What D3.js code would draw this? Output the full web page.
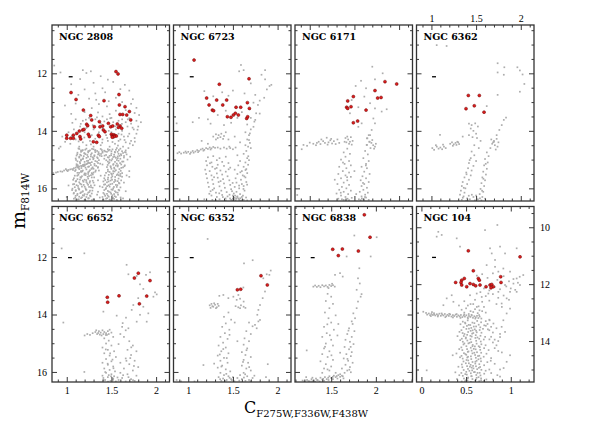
<!DOCTYPE html>
<html><head><meta charset="utf-8">
<script src="https://cdn.jsdelivr.net/npm/d3@7"></script>
<style>body{margin:0;background:#fff}svg{display:block}</style>
</head><body>
<svg id="c" width="598" height="423"></svg>
<script>
const clusterNames = ["NGC 2808","NGC 6723","NGC 6171","NGC 6362","NGC 6652","NGC 6352","NGC 6838","NGC 104"];
const xDomains = [[0.835,2.15],[0.835,2.15],[0.835,2.15],[0.833,2.148],[0.835,2.15],[0.835,2.15],[1.095,2.41],[-0.055,1.26]];
const yDomains = [[10.32,16.44],[10.32,16.44],[10.32,16.44],[10.32,16.44],[10.24,16.35],[10.24,16.35],[10.24,16.35],[9.27,15.44]];
const xBottomLabels = [[],[],[],[],[1,1.5,2],[1,1.5,2],[1.5,2],[0,0.5,1]];
const xTopLabels    = [[],[],[],[1,1.5,2],[],[],[],[]];
const yLeftLabels   = [[12,14,16],[],[],[],[12,14,16],[],[],[]];
const yRightLabels  = [[],[],[],[],[],[],[],[10,12,14]];
const errorBars = [[1.044,12.12,0.022],[1.039,12.12,0.022],null,[1.029,12.12,0.022],[1.036,12.02,0.022],[1.039,12.02,0.022],[1.293,12.02,0.022],[0.141,11.06,0.022]];

const gray2808 = [0.86,11.73,0.93,11.97,1.18,11.89,1.22,11.99,1.27,11.93,1.38,12.10,1.46,12.22,1.15,12.20,1.05,12.38,1.30,12.33,1.52,12.30,1.60,12.55,1.40,12.52,1.20,12.56,1.13,12.75,1.32,12.70,1.70,12.60,1.74,12.90,1.55,12.85,1.47,12.97,1.25,12.88,1.10,13.05,1.36,13.07,1.62,13.00,1.78,13.20,1.72,13.06,1.45,13.15,1.28,13.21,1.20,13.35,1.55,13.30,1.66,13.28,1.76,13.38,1.81,13.45,1.05,13.41,1.35,13.36,1.48,13.42,0.98,13.12,1.58,12.71,1.65,12.40,1.43,12.66,1.33,12.92,1.50,13.55,1.40,13.50,1.70,13.56,1.62,13.60,
1.10,13.6,1.18,13.65,1.25,13.55,1.32,13.6,1.38,13.75,1.45,13.6,1.52,13.7,1.58,13.65,1.66,13.7,1.72,13.75,1.78,13.65,1.80,13.85,1.75,13.95,1.68,13.85,1.62,14.0,1.55,13.95,1.47,14.0,1.40,13.9,1.30,13.95,1.22,13.9,1.15,13.85,1.08,13.95,1.02,14.05,0.95,14.2,1.12,14.1,1.20,14.05,1.28,14.15,1.36,14.05,1.44,14.15,1.52,14.25,1.58,14.1,1.64,14.2,1.70,14.1,1.76,14.25,1.72,14.35,1.66,14.4,1.60,14.3,1.54,14.45,1.46,14.35,1.40,14.3,1.34,14.4,1.26,14.35,1.18,14.4,1.10,14.3,1.04,14.45,0.93,14.55,1.14,14.55,1.22,14.5,1.30,14.55,1.38,14.5,1.48,14.55,1.56,14.6,1.63,14.55,1.69,14.6,1.74,14.5,1.78,14.1,1.83,13.7,1.35,14.2,1.58,14.35,1.50,14.05,
1.063,13.721,1.157,13.758,1.214,13.612,1.291,13.804,1.338,13.532,1.421,13.673,1.487,13.562,1.543,13.842,1.617,13.758,1.683,13.601,1.737,13.889,1.792,13.963,1.058,14.192,1.133,14.368,1.197,14.233,1.271,14.471,1.319,14.276,1.397,14.412,1.453,14.248,1.512,14.389,1.573,14.512,1.647,14.318,1.706,14.441,1.762,14.377,1.685,14.192,1.613,14.128,0.982,14.381,0.912,14.612,
0.85,15.47,0.88,15.45,0.90,15.43,0.93,15.41,0.95,15.42,0.97,15.38,1.00,15.37,1.02,15.36,1.04,15.34,1.06,15.33,1.08,15.30,1.10,15.28,1.12,15.26,1.14,15.24,1.16,15.22,1.18,15.19,1.20,15.17,1.22,15.16,1.01,15.40,1.07,15.36,1.13,15.29,1.19,15.23,0.99,15.33,1.11,15.22,1.25,15.12,
1.14,14.63,1.18,14.67,1.22,14.62,1.26,14.68,1.30,14.64,1.34,14.70,1.38,14.63,1.42,14.69,1.46,14.64,1.50,14.71,1.55,14.66,1.60,14.62,1.66,14.68,1.12,14.76,1.16,14.73,1.20,14.79,1.24,14.75,1.28,14.78,1.32,14.74,1.36,14.80,1.40,14.76,1.45,14.73,1.50,14.79,1.54,14.75,1.58,14.80,1.63,14.77,1.11,14.86,1.15,14.83,1.19,14.88,1.23,14.84,1.27,14.89,1.31,14.85,1.35,14.82,1.39,14.88,1.44,14.84,1.48,14.87,1.53,14.83,1.57,14.89,1.61,14.85,1.67,14.82,1.10,14.96,1.14,14.93,1.18,14.98,1.22,14.94,1.26,14.99,1.30,14.95,1.34,14.92,1.42,14.97,1.47,14.93,1.51,14.98,1.55,14.94,1.60,14.97,1.64,14.93,1.12,15.06,1.16,15.03,1.20,15.08,1.24,15.04,1.28,15.09,1.32,15.05,1.36,15.02,1.46,15.07,1.50,15.03,1.54,15.08,1.58,15.04,1.62,15.07,1.11,15.16,1.15,15.13,1.19,15.18,1.23,15.14,1.27,15.19,1.31,15.15,1.35,15.12,1.40,15.17,1.47,15.13,1.52,15.18,1.56,15.14,1.61,15.17,1.13,15.26,1.17,15.23,1.21,15.28,1.25,15.24,1.29,15.27,1.33,15.22,1.45,15.26,1.49,15.23,1.53,15.28,1.57,15.24,1.63,15.27,1.10,15.36,1.14,15.33,1.18,15.38,1.22,15.34,1.26,15.37,1.30,15.32,1.36,15.38,1.46,15.35,1.50,15.32,1.55,15.37,1.59,15.33,1.12,15.46,1.16,15.43,1.20,15.48,1.24,15.44,1.28,15.47,1.32,15.42,1.44,15.46,1.48,15.43,1.52,15.48,1.58,15.44,1.62,15.47,1.09,15.56,1.13,15.53,1.17,15.58,1.21,15.54,1.25,15.57,1.29,15.52,1.38,15.56,1.47,15.53,1.51,15.58,1.56,15.54,1.60,15.57,
1.131,14.612,1.173,14.694,1.207,14.655,1.249,14.702,1.283,14.627,1.318,14.688,1.356,14.741,1.392,14.665,1.431,14.718,1.467,14.689,1.512,14.645,1.538,14.733,1.583,14.668,1.619,14.709,1.652,14.741,1.118,14.812,1.161,14.857,1.196,14.774,1.238,14.903,1.271,14.826,1.309,14.878,1.347,14.951,1.384,14.803,1.423,14.862,1.459,14.919,1.497,14.848,1.536,14.897,1.571,14.951,1.606,14.812,1.641,14.874,1.104,15.013,1.147,15.085,1.183,14.956,1.226,15.047,1.262,15.118,1.297,14.989,1.339,15.071,1.374,15.142,1.442,15.023,1.478,15.096,1.523,15.154,1.561,15.015,1.597,15.122,1.634,15.068,1.123,15.211,1.164,15.294,1.202,15.176,1.239,15.253,1.277,15.318,1.312,15.201,1.348,15.283,1.458,15.187,1.493,15.265,1.534,15.318,1.572,15.198,1.611,15.287,1.645,15.231,1.093,15.397,1.138,15.462,1.172,15.414,1.213,15.489,1.251,15.412,1.289,15.501,1.325,15.377,1.461,15.409,1.497,15.487,1.536,15.413,1.569,15.508,1.604,15.392,1.118,15.559,1.153,15.611,1.196,15.527,1.234,15.598,1.271,15.543,1.307,15.619,1.426,15.552,1.463,15.627,1.505,15.521,1.542,15.604,1.583,15.547,1.619,15.596,
1.16,14.68,1.24,14.71,1.32,14.67,1.40,14.72,1.48,14.66,1.57,14.73,1.14,14.90,1.21,14.81,1.29,14.92,1.37,14.86,1.52,14.91,1.59,14.87,1.16,15.00,1.24,15.11,1.20,15.21,1.28,15.31,1.16,15.40,1.24,15.50,1.48,15.01,1.55,15.21,1.52,15.40,1.60,15.50,1.12,15.19,1.30,15.45,1.35,15.26,1.66,14.75,1.68,15.00,1.65,15.20,1.70,15.40,1.67,15.55,1.71,14.90,
1.08,15.65,1.12,15.68,1.16,15.63,1.20,15.70,1.24,15.66,1.28,15.62,1.10,15.76,1.14,15.79,1.18,15.73,1.22,15.78,1.26,15.75,1.30,15.80,1.07,15.86,1.11,15.89,1.15,15.84,1.19,15.88,1.23,15.83,1.27,15.90,1.09,15.96,1.13,15.99,1.17,15.94,1.21,16.00,1.25,15.95,1.29,15.98,1.06,16.06,1.10,16.09,1.14,16.04,1.18,16.10,1.22,16.05,1.26,16.08,1.08,16.16,1.12,16.19,1.16,16.14,1.20,16.20,1.24,16.15,1.28,16.18,1.10,16.26,1.14,16.29,1.18,16.24,1.22,16.30,1.26,16.25,1.08,16.36,1.12,16.39,1.16,16.34,1.20,16.40,1.24,16.35,1.30,16.38,
1.072,15.703,1.106,15.742,1.148,15.693,1.187,15.771,1.218,15.715,1.257,15.802,1.291,15.737,1.083,15.851,1.126,15.918,1.163,15.862,1.201,15.943,1.239,15.877,1.272,15.961,1.311,15.893,1.064,16.012,1.101,16.064,1.139,16.031,1.176,16.117,1.214,16.043,1.253,16.129,1.287,16.078,1.077,16.182,1.118,16.231,1.152,16.167,1.193,16.254,1.228,16.212,1.267,16.279,1.095,16.321,1.134,16.382,1.171,16.311,1.209,16.421,1.247,16.345,1.282,16.409,
1.42,15.65,1.46,15.69,1.50,15.63,1.54,15.70,1.58,15.66,1.41,15.76,1.45,15.79,1.49,15.73,1.53,15.78,1.57,15.75,1.43,15.86,1.47,15.89,1.51,15.84,1.55,15.88,1.59,15.83,1.40,15.96,1.44,15.99,1.48,15.94,1.52,16.00,1.56,15.95,1.42,16.06,1.46,16.09,1.50,16.04,1.54,16.10,1.58,16.05,1.41,16.16,1.45,16.19,1.49,16.14,1.53,16.20,1.57,16.15,1.43,16.26,1.47,16.29,1.51,16.24,1.55,16.30,1.44,16.36,1.48,16.39,1.52,16.34,1.56,16.40,1.40,16.30,
1.431,15.712,1.468,15.761,1.507,15.702,1.545,15.742,1.583,15.811,1.609,15.723,1.417,15.871,1.452,15.923,1.489,15.856,1.528,15.951,1.566,15.889,1.601,15.967,1.436,16.024,1.473,16.118,1.514,16.052,1.551,16.137,1.588,16.071,1.422,16.203,1.459,16.251,1.497,16.187,1.536,16.272,1.574,16.221,1.411,16.391,1.452,16.341,1.491,16.423,1.529,16.368,1.566,16.431,1.603,16.317,
1.35,15.72,1.37,15.93,1.35,16.12,1.37,16.32,1.34,16.22,1.64,15.80,1.66,16.10,1.02,15.90,1.00,16.30,1.70,15.60,1.63,16.35];
const gray6723 = [1.59,11.71,1.62,11.89,1.57,11.93,1.86,11.89,1.82,12.05,1.86,12.21,1.91,12.44,1.88,12.56,1.93,12.40,1.70,12.35,1.63,12.70,1.50,12.60,1.45,12.78,1.38,12.66,1.28,12.80,1.18,12.62,1.75,12.75,1.80,12.95,1.78,13.10,1.73,13.02,1.85,12.85,1.69,13.25,1.60,13.35,1.55,13.55,1.42,13.30,1.33,13.45,1.22,13.60,1.12,13.55,1.05,13.70,1.25,13.75,1.70,13.55,1.74,13.68,1.66,13.78,1.80,13.40,1.70,13.95,1.64,14.05,0.87,13.74,1.40,13.80,1.48,13.72,
1.76,13.39,1.75,13.62,1.73,13.86,1.69,14.09,1.68,14.32,1.67,14.55,
0.88,14.78,0.90,14.74,0.92,14.79,0.95,14.76,0.98,14.77,1.00,14.73,1.03,14.75,1.05,14.70,1.08,14.72,1.10,14.67,1.12,14.70,1.14,14.65,1.16,14.62,1.18,14.66,1.20,14.60,1.22,14.63,1.24,14.58,1.26,14.61,1.28,14.56,1.30,14.59,1.06,14.76,1.11,14.74,1.17,14.69,0.97,14.72,1.02,14.80,1.25,14.65,1.33,14.58,1.36,14.62,
1.40,14.58,1.43,14.62,1.47,14.60,1.50,14.64,1.53,14.58,1.46,14.55,
1.31,14.12,1.34,14.15,1.37,14.10,1.40,14.18,1.33,14.25,1.36,14.22,1.39,14.28,1.31,14.30,1.42,14.05,1.28,14.20,1.45,14.30,1.52,14.20,1.58,14.40,1.22,14.45,1.15,14.35,
1.68,14.15,1.66,14.30,1.69,14.42,1.64,14.50,1.70,14.60,1.65,14.70,
1.22,14.92,1.28,14.88,1.35,14.95,1.42,14.90,1.55,14.85,1.62,14.80,1.66,14.95,1.20,15.05,1.26,15.10,1.32,15.02,1.38,15.08,1.45,15.12,1.58,15.05,1.64,15.10,1.68,15.02,1.21,15.20,1.27,15.25,1.33,15.18,1.40,15.22,1.47,15.28,1.56,15.20,1.62,15.25,1.67,15.18,1.19,15.35,1.24,15.40,1.30,15.32,1.36,15.38,1.42,15.42,1.52,15.35,1.60,15.40,1.65,15.33,1.20,15.50,1.26,15.55,1.32,15.48,1.38,15.52,1.44,15.58,1.55,15.50,1.61,15.55,1.66,15.47,1.21,15.65,1.27,15.70,1.33,15.63,1.39,15.68,1.46,15.72,1.53,15.65,1.59,15.70,1.64,15.62,1.22,15.80,1.28,15.85,1.34,15.78,1.40,15.83,1.47,15.88,1.54,15.80,1.60,15.85,1.65,15.78,1.23,15.95,1.29,16.00,1.35,15.93,1.41,15.98,1.48,16.03,1.52,15.95,1.57,16.00,1.62,15.92,1.25,16.10,1.31,16.15,1.37,16.08,1.43,16.13,1.49,16.10,1.51,16.18,1.54,16.12,1.58,16.20,1.63,16.08,1.26,16.25,1.32,16.30,1.38,16.23,1.44,16.28,1.50,16.25,1.52,16.33,1.55,16.28,1.57,16.38,1.60,16.30,1.27,16.40,1.35,16.38,1.42,16.42,1.48,16.40,1.50,16.36,1.53,16.42,1.56,16.35,1.59,16.43,1.62,16.40,1.66,16.42,1.18,16.38,
1.243,15.127,1.318,15.291,1.452,15.337,1.583,15.442,1.627,15.581,1.289,15.613,1.362,15.748,1.497,15.812,1.569,15.903,1.618,16.021,1.273,16.052,1.347,16.173,1.462,16.221,1.524,16.254,1.548,16.301,1.583,16.342,1.512,16.391,1.537,16.362,1.571,16.418,1.493,16.427,1.468,16.352,1.612,16.253,1.647,16.318,1.418,16.351,1.387,16.303,1.308,16.412,1.236,16.188,1.659,15.872,1.641,15.363,1.672,14.883];
const gray6171 = [1.70,11.77,1.816,12.00,1.574,12.26,1.514,12.44,1.63,12.52,1.73,12.21,1.611,12.81,1.675,13.04,1.73,13.22,1.805,13.33,1.861,13.25,1.469,12.93,1.544,13.18,1.45,13.39,1.544,13.86,1.581,13.74,1.712,13.57,1.73,13.74,1.693,13.97,1.675,14.15,1.645,14.26,1.667,14.38,1.637,14.49,
0.91,14.64,0.93,14.49,0.97,14.52,1.00,14.41,1.04,14.45,1.07,14.50,1.10,14.38,1.13,14.30,1.15,14.36,1.17,14.42,1.19,14.24,1.21,14.40,1.23,14.33,1.25,14.44,1.27,14.36,1.29,14.46,1.31,14.30,1.33,14.42,1.12,14.46,1.20,14.48,1.24,14.28,1.08,14.42,
1.40,14.25,1.43,14.30,1.46,14.22,1.48,14.35,1.41,14.40,1.44,14.45,1.47,14.48,1.42,14.20,1.39,14.38,1.45,14.38,
1.64,14.26,1.67,14.38,1.64,14.49,1.66,14.15,1.69,14.42,1.71,14.50,1.73,14.55,1.68,14.60,1.74,14.45,1.70,14.32,1.72,14.62,
1.42,14.62,1.38,14.75,1.45,14.80,1.40,14.90,1.35,15.00,1.44,15.05,1.39,15.15,1.46,15.20,1.33,15.25,1.41,15.30,1.37,15.40,1.44,15.45,1.32,15.50,1.40,15.55,1.46,15.60,1.35,15.65,1.42,15.72,1.38,15.80,1.31,15.85,1.44,15.88,1.36,15.95,1.41,16.00,1.33,16.05,1.46,16.08,1.38,16.12,1.30,16.18,1.43,16.20,1.35,16.25,1.40,16.30,1.47,16.33,1.32,16.36,1.38,16.40,1.44,16.41,1.36,16.38,
1.62,14.70,1.65,14.82,1.60,14.95,1.66,15.05,1.63,15.15,1.58,15.25,1.64,15.30,1.61,15.42,1.67,15.50,1.59,15.58,1.63,15.65,1.57,15.72,1.66,15.78,1.61,15.85,1.58,15.92,1.64,15.98,1.60,16.05,1.56,16.12,1.65,16.15,1.62,16.22,1.58,16.28,1.63,16.32,1.60,16.38,1.66,16.40,1.57,16.41,
0.86,16.23,1.50,15.40,1.52,16.20,1.55,16.38,1.28,15.70,1.372,15.103,1.418,15.612,1.347,16.152,1.423,16.362,1.628,15.203,1.596,15.812,1.618,16.301,1.583,16.352];
const gray6362 = [1.059,11.02,1.17,11.05,1.741,11.65,1.741,11.97,1.816,11.79,1.81,12.05,1.962,11.79,1.99,11.90,2.02,12.04,2.04,12.37,1.99,12.64,1.741,12.75,1.619,13.14,1.835,13.54,1.81,13.62,1.787,13.80,1.76,13.97,1.73,14.15,1.70,14.38,
1.42,13.75,1.45,13.80,1.49,13.74,1.52,13.85,1.44,13.92,1.47,14.00,1.50,14.10,1.42,14.15,1.46,14.22,1.51,14.25,
1.01,14.60,1.03,14.66,1.06,14.55,1.08,14.62,1.10,14.58,1.12,14.64,1.14,14.55,1.16,14.60,1.05,14.50,1.13,14.48,1.21,14.45,1.23,14.40,1.25,14.47,1.27,14.42,1.29,14.38,1.31,14.46,1.24,14.52,1.28,14.49,1.30,14.40,0.835,14.49,1.096,14.14,
1.67,14.30,1.70,14.35,1.73,14.28,1.75,14.40,1.68,14.45,1.71,14.50,1.74,14.55,1.66,14.60,1.72,14.65,1.69,14.40,
1.45,14.72,1.48,14.85,1.44,14.95,1.50,15.05,1.42,15.12,1.47,15.22,1.41,15.30,1.45,15.38,1.39,15.45,1.44,15.55,1.37,15.62,1.42,15.70,1.35,15.78,1.40,15.85,1.34,15.92,1.38,16.00,1.33,16.08,1.37,16.15,1.32,16.22,1.36,16.28,1.40,16.35,1.34,16.40,1.39,16.43,1.43,16.38,1.47,16.30,
1.62,14.75,1.64,14.88,1.60,14.98,1.63,15.10,1.59,15.20,1.62,15.32,1.58,15.42,1.61,15.52,1.57,15.62,1.60,15.72,1.56,15.82,1.59,15.92,1.55,16.02,1.58,16.12,1.54,16.20,1.57,16.30,1.52,16.38,1.56,16.42,1.60,16.36,1.50,16.25,
1.53,14.60,1.48,14.50,1.55,14.35,1.35,14.20,1.428,15.017,1.393,15.512,1.362,15.981,1.351,16.327,1.418,16.257,1.608,15.147,1.582,15.667,1.567,16.082,1.543,16.348,1.487,16.418,1.452,16.222];
const gray6652 = [0.943,11.70,1.197,11.87,1.67,12.27,1.69,12.60,1.783,12.66,1.887,12.62,1.932,12.53,1.82,12.95,1.857,13.11,1.988,13.23,2.007,13.30,1.97,13.38,1.857,13.73,1.913,13.96,1.895,14.25,1.41,13.90,0.962,14.28,1.559,14.04,1.663,14.11,1.626,14.30,1.69,14.48,1.783,14.25,1.82,14.01,1.745,13.67,1.80,13.43,1.727,13.84,
1.20,14.73,1.23,14.68,1.26,14.71,1.29,14.65,1.32,14.61,1.34,14.68,1.36,14.58,1.38,14.63,1.40,14.55,1.42,14.61,1.44,14.65,1.46,14.58,1.48,14.53,1.50,14.63,1.37,14.70,1.41,14.68,1.45,14.71,1.33,14.55,1.47,14.68,1.39,14.73,
1.62,14.43,1.66,14.55,1.60,14.68,1.64,14.78,
1.42,14.83,1.47,14.91,1.52,14.78,1.44,15.01,1.50,15.08,1.40,15.15,1.46,15.23,1.53,15.28,1.42,15.35,1.48,15.43,1.55,15.48,1.44,15.55,1.50,15.63,1.40,15.68,1.46,15.75,1.52,15.81,1.42,15.88,1.48,15.93,1.54,15.98,1.44,16.03,1.50,16.08,1.40,16.13,1.46,16.18,1.52,16.23,1.43,16.28,1.49,16.31,1.55,16.33,1.41,16.21,1.47,16.11,1.53,16.15,
1.70,14.93,1.74,15.08,1.68,15.23,1.78,15.28,1.72,15.41,1.66,15.53,1.76,15.61,1.70,15.73,1.80,15.83,1.64,15.88,1.74,15.95,1.68,16.08,1.78,16.13,1.62,16.21,1.72,16.25,1.66,16.33,1.76,16.31,1.60,16.03,
1.197,16.00,1.58,15.03,1.60,15.68,1.58,16.28,
1.437,15.216,1.486,15.352,1.512,15.571,1.458,15.713,1.523,15.872,1.431,16.004,1.496,16.152,1.518,16.274,1.462,16.337,1.413,16.286,1.568,16.192,1.711,15.518,1.752,15.792,1.691,16.182,1.742,16.287,1.631,16.113,1.668,15.612,1.722,15.143,1.438,14.713,1.352,14.643];
const gray6352 = [1.217,11.37,1.721,12.11,1.624,12.22,1.878,12.60,1.908,12.62,1.923,12.47,1.84,12.74,1.859,13.20,1.833,13.43,1.803,13.67,1.785,13.84,1.773,14.01,1.803,14.19,1.785,14.24,1.747,14.36,1.766,14.48,1.617,13.06,1.561,13.32,1.505,13.38,1.449,13.43,1.393,13.32,1.348,13.35,1.542,13.49,1.58,13.45,1.62,13.55,
1.24,13.68,1.26,13.63,1.28,13.73,1.30,13.66,1.32,13.75,1.34,13.70,1.25,13.77,1.29,13.61,1.33,13.63,1.27,13.71,1.31,13.78,1.53,13.71,1.56,13.75,1.59,13.68,1.62,13.73,1.64,13.77,1.58,13.78,
1.45,13.93,1.40,14.08,1.48,14.18,1.42,14.31,1.38,14.43,1.46,14.53,1.41,14.65,1.36,14.78,1.44,14.85,1.39,14.98,1.34,15.08,1.42,15.15,1.37,15.28,1.45,15.35,1.33,15.43,1.40,15.51,1.36,15.61,1.44,15.68,1.38,15.78,1.33,15.85,1.42,15.91,1.47,15.98,1.36,16.03,1.40,16.11,1.45,16.15,1.34,16.18,1.39,16.23,1.43,16.28,1.37,16.31,1.48,16.25,1.50,16.18,
1.68,14.28,1.72,14.41,1.65,14.58,1.70,14.68,1.63,14.83,1.68,14.93,1.62,15.05,1.66,15.18,1.60,15.31,1.64,15.41,1.70,15.48,1.62,15.58,1.67,15.68,1.60,15.78,1.65,15.88,1.70,15.95,1.62,16.03,1.58,16.11,1.66,16.15,1.72,16.21,1.60,16.25,1.64,16.31,1.68,16.28,1.74,16.13,1.55,16.21,
0.87,16.28,0.92,16.33,1.07,16.33,1.17,15.76,1.29,15.71,1.89,15.73,1.87,16.18,1.52,14.28,1.55,14.93,
1.392,15.202,1.431,15.517,1.371,15.812,1.426,16.066,1.357,16.252,1.418,16.312,1.463,16.203,1.652,15.243,1.613,15.652,1.682,15.831,1.637,16.082,1.697,16.322,1.623,16.195,1.571,16.301,1.516,16.322,1.487,16.283,1.353,15.392,1.462,14.708];
const gray6838 = [1.759,11.25,2.009,11.31,1.942,11.98,1.673,11.98,1.815,12.39,1.543,12.62,1.599,12.56,1.629,12.68,1.80,12.74,1.82,12.92,1.785,13.14,1.84,13.29,1.83,13.38,1.80,13.55,1.785,13.78,1.748,13.96,1.767,14.13,1.73,14.24,
1.30,13.03,1.32,12.99,1.34,13.04,1.36,13.00,1.38,13.05,1.40,12.98,1.42,13.02,1.44,12.99,1.46,13.04,1.48,12.97,1.50,13.01,1.52,12.98,1.54,13.03,1.51,12.93,1.47,13.08,
1.46,13.28,1.50,13.38,1.44,13.53,1.52,13.63,1.48,13.78,1.43,13.93,1.55,14.03,1.47,14.13,1.50,14.28,1.42,14.43,1.53,14.53,1.45,14.65,1.40,14.78,1.50,14.88,1.44,15.01,1.52,15.08,1.42,15.18,1.48,15.28,1.40,15.38,1.46,15.48,1.52,15.58,1.38,15.63,1.44,15.73,1.50,15.81,1.42,15.88,1.48,15.95,1.55,16.03,1.40,16.03,
1.74,14.33,1.70,14.48,1.76,14.58,1.68,14.68,1.73,14.78,1.66,14.88,1.71,14.95,1.75,15.03,1.65,15.13,1.70,15.21,1.73,15.31,1.67,15.38,1.72,15.45,1.64,15.53,1.69,15.61,1.74,15.68,1.66,15.75,1.71,15.83,1.62,15.88,1.68,15.95,1.65,16.03,1.60,16.08,1.72,16.01,1.63,16.15,
1.20,16.33,1.23,16.28,1.25,16.35,1.28,16.25,1.30,16.31,1.33,16.23,1.35,16.29,1.38,16.20,1.40,16.26,1.43,16.18,1.45,16.25,1.48,16.15,1.50,16.21,1.53,16.13,1.55,16.18,1.58,16.11,1.60,16.17,1.26,16.33,1.32,16.34,1.37,16.33,1.42,16.31,1.47,16.28,1.52,16.25,1.57,16.23,1.22,16.18,1.62,16.13,1.18,16.30,1.29,16.20,
1.226,15.25,1.58,14.33,1.60,15.33,1.57,14.73,
1.457,14.342,1.485,14.723,1.431,15.123,1.503,15.421,1.459,15.912,1.693,14.562,1.718,15.127,1.682,15.547,1.703,15.923,1.638,16.224,1.342,16.281,1.411,16.238,1.467,16.201,1.518,16.168,1.562,16.143,1.246,16.317,1.287,16.327];
const gray104 = [0.189,10.16,0.227,10.27,0.171,10.33,0.395,10.39,0.432,10.68,0.712,10.10,0.85,9.92,0.768,10.74,0.88,10.68,0.787,10.92,0.824,11.15,0.936,10.92,1.066,10.74,1.10,11.74,1.14,11.68,1.066,11.80,0.992,11.56,0.917,11.45,0.824,11.39,0.73,11.33,0.861,11.56,1.03,11.98,0.936,12.03,0.992,12.27,0.861,12.27,0.749,12.33,0.675,12.45,0.619,12.33,0.544,12.39,0.339,12.39,0.283,12.50,0.246,12.74,0.358,12.62,0.021,12.97,0.059,15.03,1.066,12.27,1.103,12.03,0.954,12.50,0.898,12.68,0.992,12.86,0.954,13.03,0.917,13.27,0.898,13.50,0.936,13.68,0.88,13.86,0.992,14.50,0.954,14.73,0.92,14.95,0.88,15.25,
0.62,11.70,0.68,11.65,0.74,11.78,0.80,11.62,0.85,11.85,0.92,11.72,0.98,11.90,1.03,11.82,1.08,11.95,0.70,12.15,0.76,12.22,0.82,12.10,0.88,12.18,0.95,12.08,1.00,12.15,1.05,12.20,0.66,12.28,0.72,12.42,0.80,12.35,0.86,12.48,0.92,12.40,0.98,12.55,0.60,12.55,0.68,12.62,0.76,12.58,0.84,12.70,0.90,12.80,0.55,12.70,0.62,12.80,0.48,12.60,0.42,12.75,
0.064,13.071,0.083,13.032,0.097,13.094,0.112,13.048,0.128,13.083,0.141,13.021,0.156,13.102,0.172,13.057,0.186,13.092,0.201,13.038,0.217,13.114,0.233,13.069,0.247,13.101,0.262,13.049,0.278,13.126,0.291,13.078,0.307,13.117,0.322,13.061,0.336,13.138,0.352,13.087,0.368,13.121,0.383,13.072,0.397,13.148,0.413,13.098,0.428,13.132,0.442,13.083,0.458,13.158,0.473,13.107,0.487,13.142,0.503,13.094,0.518,13.171,0.532,13.118,0.548,13.152,0.563,13.104,0.577,13.183,0.592,13.128,0.608,13.167,0.622,13.113,0.637,13.192,0.652,13.139,0.106,13.121,0.143,13.068,0.184,13.136,0.226,13.029,0.268,13.162,0.311,13.043,0.353,13.171,0.394,13.052,0.437,13.187,0.479,13.066,0.521,13.206,0.561,13.078,0.603,13.211,0.646,13.087,0.671,13.209,0.052,13.012,0.118,12.983,
0.45,12.90,0.50,12.85,0.55,12.95,0.60,12.88,0.65,12.92,0.48,13.00,0.53,13.05,0.58,12.98,0.63,13.02,0.68,12.95,0.72,13.00,0.70,12.80,0.52,12.75,0.58,12.70,0.64,12.78,
0.74,13.40,0.78,13.50,0.76,13.62,0.80,13.70,0.78,13.85,0.82,13.95,0.80,14.05,0.84,14.15,0.82,14.25,0.86,14.35,0.72,13.30,0.76,13.25,0.84,13.55,0.88,13.75,0.86,14.00,
0.463,13.318,0.518,13.274,0.571,13.352,0.624,13.293,0.668,13.341,0.437,13.409,0.492,13.381,0.547,13.437,0.593,13.372,0.641,13.426,0.703,13.448,0.472,13.512,0.509,13.468,0.558,13.539,0.612,13.487,0.659,13.518,0.721,13.463,0.448,13.617,0.503,13.574,0.551,13.641,0.597,13.588,0.652,13.612,0.689,13.571,0.461,13.719,0.523,13.682,0.568,13.741,0.619,13.693,0.672,13.708,0.426,13.677,0.474,13.823,0.512,13.781,0.563,13.842,0.608,13.794,0.661,13.815,0.713,13.853,0.452,13.918,0.498,13.876,0.549,13.937,0.604,13.891,0.647,13.919,0.698,13.946,0.463,14.024,0.514,13.982,0.558,14.038,0.613,13.991,0.664,14.017,0.434,13.968,0.471,14.121,0.526,14.083,0.574,14.137,0.618,14.092,0.671,14.114,0.718,14.148,0.447,14.223,0.503,14.181,0.552,14.236,0.598,14.189,0.653,14.214,0.702,14.251,0.458,14.318,0.511,14.284,0.562,14.337,0.607,14.291,0.658,14.308,0.423,14.282,0.476,14.427,0.519,14.381,0.571,14.434,0.622,14.393,0.669,14.412,0.728,14.446,0.449,14.521,0.502,14.483,0.554,14.538,0.601,14.491,0.648,14.517,0.697,14.552,0.462,14.617,0.513,14.579,0.558,14.634,0.609,14.588,0.663,14.613,0.432,14.571,0.471,14.718,0.524,14.682,0.572,14.737,0.618,14.693,0.667,14.711,0.738,14.742,0.452,14.823,0.497,14.781,0.551,14.836,0.603,14.793,0.648,14.814,0.702,14.851,0.458,14.921,0.511,14.882,0.563,14.934,0.611,14.887,0.657,14.913,0.414,14.903,0.473,15.018,0.521,14.981,0.568,15.032,0.624,14.989,0.671,15.012,0.719,15.043,0.447,15.121,0.502,15.084,0.553,15.133,0.598,15.091,0.652,15.117,0.703,15.148,0.463,15.223,0.508,15.181,0.559,15.236,0.614,15.193,0.661,15.208,0.424,15.201,0.476,15.318,0.523,15.283,0.571,15.337,0.618,15.292,0.668,15.313,0.727,15.351,0.451,15.421,0.497,15.382,0.553,15.434,0.602,15.393,0.647,15.412,0.698,15.403,
0.488,13.352,0.532,13.563,0.581,13.718,0.627,13.874,0.539,14.061,0.586,14.274,0.492,14.459,0.638,14.642,0.531,14.781,0.583,14.962,0.491,15.163,0.639,15.271,0.516,15.382,0.586,13.491,0.482,13.753,0.572,14.182,0.527,14.366,0.633,14.527,0.578,14.874,0.537,15.047,0.628,15.121,0.481,14.083,0.612,13.637,0.548,13.817,0.592,14.412,0.505,14.667,0.643,14.941,0.562,15.237,0.488,15.413,0.611,15.352,0.529,13.431,0.573,13.623,0.496,13.908,0.641,14.182,0.522,14.553,0.604,14.727,0.543,14.902,0.588,15.093,0.519,15.304,0.668,15.382,0.744,13.588,0.761,13.942,0.752,14.318,0.776,14.693,0.781,15.126,0.404,13.827,0.392,14.437,0.398,15.338,0.763,13.271,0.806,13.384,
0.78,14.60,0.82,14.80,0.76,15.00,0.85,15.20,0.80,15.35,0.90,14.40,0.38,15.10,0.35,14.50,0.88,15.00];

const red2808 = [1.551,11.94,1.574,12.02,1.048,12.67,1.104,12.91,1.417,12.95,1.585,12.74,1.186,13.28,1.268,13.47,1.589,13.10,1.652,13.16,1.701,13.33,1.596,13.43,1.626,13.43,1.671,13.45,1.716,13.62,1.279,13.62,1.223,13.77,1.234,13.82,1.309,13.86,1.365,13.68,1.402,13.83,1.41,13.97,1.428,14.03,1.466,13.74,1.492,13.86,1.514,13.83,1.566,13.76,1.596,13.83,1.615,13.91,1.578,13.88,1.178,13.97,1.193,13.95,1.111,14.09,1.141,14.01,1.074,14.15,1.0,14.15,1.0,14.26,1.044,14.26,1.074,14.26,1.148,14.2,1.156,14.28,1.242,14.12,1.253,14.2,1.298,14.38,1.335,14.4,1.354,14.15,1.365,14.2,1.50,14.12,1.51,14.18,1.525,14.14,1.54,14.16,1.555,14.18,1.53,14.20,1.51,14.22,1.372,13.86];
const red6723 = [1.065,11.54,1.680,12.19,1.348,12.38,1.206,12.86,1.318,12.93,1.43,12.93,1.233,13.10,1.386,13.10,1.27,13.28,1.284,13.30,1.535,13.18,1.587,13.18,1.662,13.02,1.684,13.22,1.438,13.51,1.478,13.53,1.505,13.45,1.527,13.39,1.561,13.45,1.654,13.57,1.665,13.51];
const red6171 = [1.842,12.29,1.973,12.37,1.73,12.60,1.76,12.86,1.798,12.84,1.488,12.81,1.425,12.96,1.413,13.18,1.425,13.22,1.462,13.16,1.63,13.28,1.488,13.72,1.536,13.66];
const red6362 = [1.413,12.77,1.536,12.77,1.48,13.13,1.387,13.23,1.589,13.35];
const red6652 = [1.801,12.56,1.757,12.73,1.932,12.82,1.454,13.40,1.585,13.35,1.458,13.57,1.895,13.36,1.813,13.63];
const red6352 = [1.814,12.65,1.885,12.97,1.55,13.14,1.587,13.12];
const red6838 = [1.871,10.53,1.935,11.31,1.517,11.73,1.625,11.72,1.58,11.95,1.804,11.79];
const red104 = [0.525,10.83,1.104,11.04,0.581,11.53,0.480,11.80,0.451,11.86,0.383,11.94,0.443,11.94,0.451,12.03,0.544,11.98,0.637,11.80,0.648,11.86,0.656,12.03,0.581,12.01,0.607,12.06,0.507,12.09,0.723,12.09,0.768,12.03,0.787,12.01,0.805,12.09,0.779,12.13,0.887,11.74,0.891,11.94];

const grayData = [gray2808,gray6723,gray6171,gray6362,gray6652,gray6352,gray6838,gray104];
const redData = [red2808,red6723,red6171,red6362,red6652,red6352,red6838,red104];

const pairs = a => { const o=[]; for(let i=0;i+1<a.length;i+=2) o.push([a[i],a[i+1]]); return o; };

const colLeft=[52,173.5,295,416.5], panelW=117.5;
const rowTop=[25,206.5], panelH=[176,175.5];
const svg=d3.select("#c");
const fmt=d3.format("~g");
const tickFont="Liberation Serif";

clusterNames.forEach((name,i)=>{
  const r=Math.floor(i/4), c=i%4;
  const x0=colLeft[c], y0=rowTop[r], w=panelW, h=panelH[r];
  const xs=d3.scaleLinear().domain(xDomains[i]).range([x0,x0+w]);
  const ys=d3.scaleLinear().domain(yDomains[i]).range([y0,y0+h]);
  const g=svg.append("g");
  const cid="clip"+i;
  svg.append("clipPath").attr("id",cid).append("rect").attr("x",x0).attr("y",y0).attr("width",w).attr("height",h);
  const pg=g.append("g").attr("clip-path",`url(#${cid})`);
  pg.selectAll("rect.gp").data(pairs(grayData[i])).join("rect").attr("class","gp")
    .attr("x",d=>xs(d[0])-0.85).attr("y",d=>ys(d[1])-0.85).attr("width",1.7).attr("height",1.7).attr("fill","#adadad");
  pg.selectAll("circle.rp").data(pairs(redData[i])).join("circle").attr("class","rp")
    .attr("cx",d=>xs(d[0])).attr("cy",d=>ys(d[1])).attr("r",1.5).attr("fill","#dd1c1c").attr("stroke","#6a0a0a").attr("stroke-width",0.5);
  const eb=errorBars[i];
  if(eb){ g.append("line").attr("x1",xs(eb[0]-eb[2])).attr("x2",xs(eb[0]+eb[2])).attr("y1",ys(eb[1])).attr("y2",ys(eb[1])).attr("stroke","#000").attr("stroke-width",1.3); }

  const [xa,xb]=xDomains[i], [ya,yb]=yDomains[i];
  const xMinor=d3.range(Math.ceil(xa*10),Math.floor(xb*10)+1).map(v=>v/10).filter(v=>Math.abs(v*2-Math.round(v*2))>1e-6);
  const xMajor=d3.range(Math.ceil(xa*2),Math.floor(xb*2)+1).map(v=>v/2);
  const yMinor=d3.range(Math.ceil(ya*2),Math.floor(yb*2)+1).map(v=>v/2).filter(v=>Math.abs(v/2-Math.round(v/2))>1e-6);
  const yMajor=d3.range(Math.ceil(ya/2),Math.floor(yb/2)+1).map(v=>v*2);
  const mk=(axis,scale,vals,len,labels)=>axis(scale).tickValues(vals).tickSize(-len).tickPadding(3)
      .tickFormat(d=>labels.some(l=>Math.abs(l-d)<1e-6)?fmt(d):"");
  const draw=(ax,tx)=>{
    const s=g.append("g").attr("transform",tx).call(ax);
    s.select(".domain").remove();
    s.selectAll(".tick line").attr("stroke","#222").attr("stroke-width",0.9);
    s.selectAll("text").attr("font-family",tickFont).attr("font-size",10).attr("fill","#000");
    return s;
  };
  draw(mk(d3.axisBottom,xs,xMinor,2.5,[]),`translate(0,${y0+h})`);
  draw(mk(d3.axisBottom,xs,xMajor,5,xBottomLabels[i]),`translate(0,${y0+h})`).selectAll("text").attr("dy","0.85em");
  draw(mk(d3.axisTop,xs,xMinor,2.5,[]),`translate(0,${y0})`);
  draw(mk(d3.axisTop,xs,xMajor,5,xTopLabels[i]),`translate(0,${y0})`);
  draw(mk(d3.axisLeft,ys,yMinor,2.5,[]),`translate(${x0},0)`);
  draw(mk(d3.axisLeft,ys,yMajor,5,yLeftLabels[i]),`translate(${x0},0)`).call(s=>s.selectAll(".tick text").attr("dx","-2"));
  draw(mk(d3.axisRight,ys,yMinor,2.5,[]),`translate(${x0+w},0)`);
  draw(mk(d3.axisRight,ys,yMajor,5,yRightLabels[i]),`translate(${x0+w},0)`).call(s=>s.selectAll(".tick text").attr("dx","3"));

  g.append("rect").attr("x",x0).attr("y",y0).attr("width",w).attr("height",h)
    .attr("fill","none").attr("stroke","#333").attr("stroke-width",1.3);
  g.append("text").attr("x",x0+7).attr("y",y0+14.5).text(name)
    .attr("font-family","DejaVu Serif").attr("font-weight","bold").attr("font-size",9.5).attr("fill","#000");
});

const yt=svg.append("text").attr("transform","translate(25,229) rotate(-90)")
  .attr("font-family","DejaVu Serif").attr("fill","#000");
yt.append("tspan").attr("font-size",19).text("m");
yt.append("tspan").attr("font-size",10.5).attr("dy",4).text("F814W");
const xt=svg.append("text").attr("x",244).attr("y",413).attr("font-family","DejaVu Serif").attr("fill","#000");
xt.append("tspan").attr("font-size",16).text("C");
xt.append("tspan").attr("font-size",10).attr("dy",4).text("F275W,F336W,F438W");
</script>
</body></html>
